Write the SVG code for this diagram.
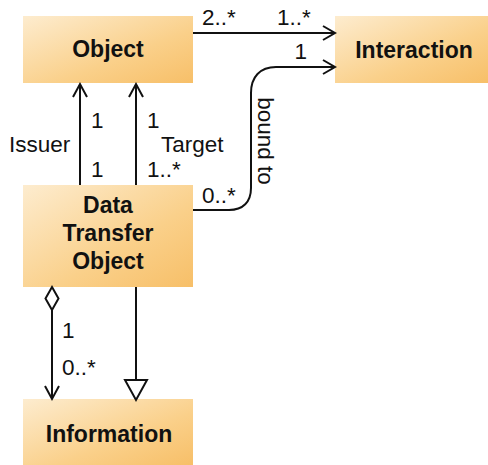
<svg xmlns="http://www.w3.org/2000/svg" width="488" height="465" viewBox="0 0 488 465">
<defs>
<linearGradient id="g" x1="0" y1="0" x2="1" y2="1">
<stop offset="0" stop-color="#fdeccf"/>
<stop offset="0.6" stop-color="#fad08a"/>
<stop offset="1" stop-color="#f7bf68"/>
</linearGradient>
<style>
.box{fill:url(#g);stroke:none}
.t{font-family:"Liberation Sans",Arial,sans-serif;font-weight:bold;font-size:23px;fill:#111;text-anchor:middle}
.l{font-family:"Liberation Sans",Arial,sans-serif;font-size:22.5px;fill:#111}
.c{fill:none;stroke:#111;stroke-width:2;stroke-linejoin:miter}
</style>
</defs>
<g id="object"><rect class="box" x="23" y="16" width="170" height="67"/><text class="t" x="108" y="57">Object</text></g>
<g id="interaction"><rect class="box" x="335" y="16" width="153" height="67"/><text class="t" x="414" y="58">Interaction</text></g>
<g id="dto"><rect class="box" x="23" y="185" width="170" height="102"/><text class="t" x="108" y="213">Data</text><text class="t" x="108" y="241">Transfer</text><text class="t" x="108" y="269">Object</text></g>
<g id="information"><rect class="box" x="23" y="399" width="170" height="66"/><text class="t" x="109" y="442">Information</text></g>
<g id="connectors">
<path class="c" d="M193,33 H335 M323,26 L335,33 L323,40"/>
<path class="c" d="M193,210 H229 C243,210 251,202 251,188 V93 C251,77 260,67 276,67 H335 M323,60 L335,67 L323,74"/>
<path class="c" d="M80,185 V84 M73,97 L80,84 L87,97"/>
<path class="c" d="M136,185 V84 M129,97 L136,84 L143,97"/>
<path class="c" d="M52,310 V399 M45,386 L52,399 L59,386"/>
<path class="c" d="M52,287 L58.5,298.5 L52,310 L45.5,298.5 Z" style="fill:#fff"/>
<path class="c" d="M136,287 V380"/>
<path class="c" d="M125,380 H147 L136,400 Z" style="fill:#fff"/>
<text class="l" x="202" y="25">2..*</text>
<text class="l" x="277" y="25">1..*</text>
<text class="l" x="307" y="59" text-anchor="end">1</text>
<text class="l" x="202" y="203">0..*</text>
<text class="l" transform="translate(258,141) rotate(90)" text-anchor="middle">bound to</text>
<text class="l" x="91" y="128">1</text>
<text class="l" x="9" y="152">Issuer</text>
<text class="l" x="91" y="177">1</text>
<text class="l" x="147" y="128">1</text>
<text class="l" x="161" y="152">Target</text>
<text class="l" x="147" y="177">1..*</text>
<text class="l" x="62" y="338">1</text>
<text class="l" x="62" y="375">0..*</text>
</g>
</svg>
